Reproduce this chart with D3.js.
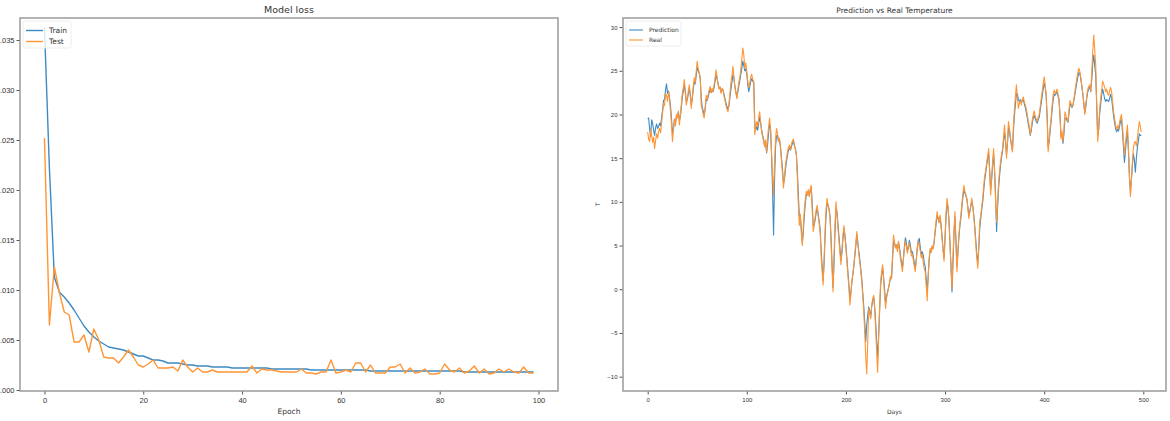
<!DOCTYPE html>
<html>
<head>
<meta charset="utf-8">
<script src="https://cdn.jsdelivr.net/npm/d3@7"></script>
<style>
  body { margin: 0; background: #fff; }
  svg { display: block; font-family: "DejaVu Sans", sans-serif; }
  .tick text { fill: #333; }
  .tick line { stroke: #555; }
</style>
</head>
<body>
<div id="chart"></div>
<script>
// model loss per epoch
const trainLoss = [
  0.0363, 0.0222, 0.0113, 0.0098, 0.0093, 0.0087, 0.0080, 0.0072, 0.0064, 0.0058,
  0.0053, 0.0049, 0.0046, 0.0043, 0.0042, 0.0041, 0.0040, 0.0038, 0.0036, 0.0034,
  0.0034, 0.0032, 0.0030, 0.0030, 0.0029, 0.0027, 0.0027, 0.0027, 0.0026, 0.0025,
  0.0025, 0.0024, 0.0024, 0.0024, 0.0023, 0.0023, 0.0023, 0.0023, 0.0022, 0.0022,
  0.0022, 0.0022, 0.0022, 0.0022, 0.0022, 0.0022, 0.0021, 0.0021, 0.0021, 0.0021,
  0.0021, 0.0021, 0.0021, 0.0021, 0.0020, 0.0020, 0.0020, 0.0020, 0.0020, 0.0020,
  0.0020, 0.0020, 0.0020, 0.0020, 0.0020, 0.0020, 0.0019, 0.0019, 0.0019, 0.0019,
  0.0019, 0.0019, 0.0019, 0.0019, 0.0019, 0.0019, 0.0019, 0.0019, 0.0019, 0.0019,
  0.0019, 0.0019, 0.0019, 0.0019, 0.0019, 0.0018, 0.0018, 0.0018, 0.0018, 0.0018,
  0.0018, 0.0018, 0.0018, 0.0018, 0.0018, 0.0018, 0.0018, 0.0018, 0.0018, 0.0018
]
const testLoss = [
  0.0252, 0.0065, 0.0123, 0.0098, 0.0078, 0.0075, 0.0048, 0.0048, 0.0055, 0.0038,
  0.0061, 0.0050, 0.0033, 0.0032, 0.0032, 0.0027, 0.0033, 0.0040, 0.0033, 0.0025,
  0.0023, 0.0026, 0.0030, 0.0022, 0.0022, 0.0022, 0.0023, 0.0019, 0.0030, 0.0023,
  0.0018, 0.0022, 0.0018, 0.0018, 0.0020, 0.0018, 0.0018, 0.0018, 0.0018, 0.0018,
  0.0018, 0.0018, 0.0024, 0.0017, 0.0021, 0.0020, 0.0020, 0.0019, 0.0018, 0.0018,
  0.0018, 0.0018, 0.0021, 0.0017, 0.0017, 0.0016, 0.0018, 0.0018, 0.0030, 0.0017,
  0.0018, 0.0020, 0.0018, 0.0027, 0.0027, 0.0018, 0.0025, 0.0017, 0.0017, 0.0017,
  0.0023, 0.0023, 0.0026, 0.0017, 0.0022, 0.0017, 0.0018, 0.0021, 0.0016, 0.0016,
  0.0017, 0.0026, 0.0020, 0.0018, 0.0022, 0.0017, 0.0019, 0.0024, 0.0017, 0.0021,
  0.0016, 0.0017, 0.0021, 0.0018, 0.0021, 0.0018, 0.0017, 0.0023, 0.0017, 0.0017
]
const epochTicks = [0, 20, 40, 60, 80, 100]
const lossTicks = [0, 0.005, 0.010, 0.015, 0.020, 0.025, 0.030, 0.035]

// daily temperature, predicted vs real
const predTemp = [
  19.5, 19.6, 18.3, 17.5, 19.4, 19.0, 18.2, 17.6, 18.5, 18.9,
  18.4, 18.6, 19.0, 18.7, 19.6, 20.5, 21.6, 21.7, 22.8, 23.5,
  22.4, 22.7, 22.0, 21.0, 19.6, 17.8, 18.4, 19.4, 19.0, 19.8,
  19.8, 20.3, 19.3, 19.8, 20.9, 22.0, 22.7, 23.4, 22.6, 21.5,
  21.7, 22.4, 23.0, 22.3, 21.1, 21.8, 22.9, 23.8, 23.5, 24.5,
  25.4, 25.0, 24.7, 24.2, 21.9, 20.9, 20.4, 20.0, 20.6, 21.7,
  21.6, 22.0, 22.5, 22.9, 22.5, 22.8, 22.6, 23.1, 23.8, 24.5,
  24.1, 23.5, 23.0, 23.1, 22.6, 22.9, 22.8, 22.3, 21.8, 21.3,
  20.9, 20.6, 21.0, 22.0, 22.9, 23.7, 24.6, 24.1, 23.2, 22.6,
  22.0, 22.6, 23.3, 23.9, 24.6, 25.3, 26.1, 25.6, 25.0, 25.2,
  24.6, 23.4, 22.6, 23.2, 23.8, 24.1, 23.8, 23.6, 19.2, 18.2,
  18.6, 18.2, 19.0, 19.7, 19.0, 18.2, 17.6, 17.1, 16.5, 16.7,
  15.6, 16.6, 17.9, 18.9, 18.3, 15.2, 11.4, 6.2, 12.5, 16.3,
  17.6, 17.6, 16.9, 17.1, 16.3, 15.0, 13.8, 12.1, 12.6, 13.7,
  14.6, 15.3, 15.9, 16.3, 15.9, 16.3, 16.7, 17.0, 16.5, 16.1,
  15.5, 13.5, 10.8, 8.3, 8.4, 6.9, 5.3, 6.5, 8.4, 9.8,
  10.8, 10.8, 11.2, 10.7, 11.2, 11.7, 9.8, 7.3, 7.3, 8.0,
  8.8, 9.3, 8.6, 7.8, 6.9, 4.5, 2.6, 1.0, 3.0, 6.1,
  8.5, 9.9, 9.6, 9.2, 8.3, 5.9, 2.9, 0.2, 3.0, 6.6,
  9.3, 8.8, 7.4, 6.0, 4.6, 3.3, 4.2, 5.8, 7.0, 6.2,
  5.0, 3.5, 2.0, 0.6, -1.2, -0.4, 0.8, 1.7, 2.6, 3.8,
  5.0, 6.3, 5.4, 4.3, 3.4, 2.3, 1.2, -0.4, -2.0, -3.8,
  -6.0, -4.0, -3.0, -2.0, -2.5, -3.1, -2.0, -1.3, -0.9, -2.0,
  -3.8, -6.0, -7.8, -5.2, -2.4, 0.4, 1.6, 2.5, 1.4, 0.0,
  -1.6, -0.8, -0.3, 0.2, 0.7, 1.3, 1.3, 3.3, 5.5, 5.3,
  4.8, 5.1, 4.5, 5.4, 4.8, 3.9, 3.1, 2.5, 3.5, 4.9,
  5.9, 5.3, 4.4, 4.8, 5.6, 5.1, 4.2, 4.3, 3.7, 3.0,
  2.5, 3.4, 4.7, 5.6, 5.8, 4.8, 4.0, 4.3, 3.9, 3.0,
  2.6, 1.1, -0.3, 1.5, 3.4, 4.5, 4.3, 4.9, 4.7, 5.4,
  6.5, 7.5, 8.5, 8.1, 7.7, 8.3, 7.3, 6.0, 4.6, 3.6,
  5.8, 8.2, 9.8, 9.3, 7.8, 5.2, 2.7, -0.3, 3.0, 6.2,
  8.3, 5.6, 2.6, 4.2, 6.0, 7.3, 8.2, 9.4, 10.5, 11.4,
  11.0, 10.7, 10.3, 9.4, 8.4, 8.9, 9.5, 10.1, 9.5, 8.5,
  7.2, 5.6, 4.1, 3.0, 4.6, 7.0, 8.1, 9.1, 10.0, 11.3,
  12.5, 13.3, 14.2, 15.0, 15.6, 13.6, 11.4, 12.6, 14.2, 15.5,
  13.4, 10.6, 6.6, 9.3, 11.6, 13.0, 14.2, 15.1, 15.8, 16.9,
  18.0, 16.9, 15.4, 16.7, 18.5, 18.1, 17.2, 16.5, 15.9, 18.2,
  19.9, 21.2, 22.3, 22.4, 21.7, 21.5, 21.7, 21.4, 21.6, 21.7,
  21.2, 20.8, 20.2, 19.6, 18.9, 18.3, 17.6, 18.2, 19.0, 19.6,
  19.9, 19.5, 19.2, 19.0, 19.4, 19.7, 20.5, 21.3, 22.1, 22.9,
  23.6, 23.1, 22.2, 19.8, 16.3, 16.8, 18.1, 19.2, 20.5, 21.6,
  22.3, 22.2, 22.4, 22.6, 22.1, 21.6, 19.9, 17.5, 17.7, 16.7,
  17.9, 19.6, 19.6, 19.3, 19.1, 20.1, 21.2, 21.1, 20.8, 21.0,
  21.6, 22.3, 23.0, 23.7, 24.3, 24.8, 24.7, 24.0, 23.2, 22.3,
  21.3, 20.2, 20.9, 21.9, 22.6, 22.9, 23.2, 22.6, 24.0, 25.8,
  26.8, 25.6, 24.5, 21.0, 17.5, 18.3, 20.1, 21.2, 22.2, 22.9,
  22.4, 21.8, 21.5, 21.7, 21.6, 21.5, 21.8, 22.3, 21.9, 20.9,
  19.8, 19.1, 18.4, 18.0, 18.3, 18.1, 18.6, 19.2, 19.5, 18.0,
  16.3, 14.5, 15.9, 17.2, 18.1, 15.8, 12.8, 11.2, 12.6, 14.2,
  15.5, 14.8, 13.4, 15.0, 16.2, 17.0, 17.8, 17.6, 17.6
]
const realTemp = [
  18.0, 17.2, 16.9, 18.3, 17.6, 16.8, 17.4, 16.1, 17.0, 17.8,
  17.3, 18.0, 18.4, 17.9, 19.0, 20.1, 21.3, 21.0, 22.4, 22.2,
  21.5, 22.6, 21.8, 20.4, 18.9, 16.9, 18.2, 19.5, 18.7, 20.0,
  19.6, 20.4, 18.8, 19.9, 21.2, 22.5, 23.1, 24.0, 22.4, 21.1,
  21.8, 22.7, 23.4, 22.1, 20.7, 22.0, 23.3, 24.2, 23.6, 25.0,
  26.1, 25.2, 24.8, 24.2, 21.1, 20.6, 20.0, 19.6, 20.8, 22.2,
  21.7, 22.3, 22.8, 23.2, 22.5, 23.0, 22.6, 23.4, 24.2, 25.1,
  24.3, 23.5, 22.9, 23.2, 22.4, 23.0, 22.8, 22.1, 21.6, 21.0,
  20.6, 20.3, 21.2, 22.5, 23.6, 24.4, 25.5, 24.3, 23.1, 22.4,
  21.8, 22.9, 23.7, 24.3, 25.2, 26.4, 27.6, 26.8, 25.3, 25.9,
  24.9, 23.8, 23.1, 23.6, 24.3, 24.6, 24.0, 23.8, 17.7, 18.5,
  19.2, 18.6, 19.7, 20.3, 19.1, 18.0, 17.4, 16.9, 16.3, 17.1,
  15.7, 17.4, 18.6, 19.6, 18.2, 15.5, 13.1, 10.8, 14.6, 17.2,
  18.4, 17.8, 16.9, 17.3, 16.1, 14.7, 13.2, 11.6, 12.9, 14.2,
  15.0, 15.7, 16.2, 16.5, 15.9, 16.6, 17.0, 17.2, 16.4, 16.0,
  15.4, 12.8, 9.7, 7.3, 8.6, 6.4, 5.0, 7.2, 9.1, 10.3,
  11.2, 10.8, 11.4, 10.6, 11.5, 11.9, 9.0, 6.6, 7.4, 8.3,
  9.1, 9.6, 8.4, 7.5, 6.6, 3.8, 2.1, 0.5, 3.6, 6.9,
  9.2, 10.4, 9.6, 9.1, 8.1, 5.4, 2.3, -0.3, 3.8, 7.5,
  10.0, 8.6, 7.0, 5.5, 4.1, 2.8, 4.6, 6.2, 7.3, 6.0,
  4.7, 3.1, 1.6, 0.2, -1.8, -0.6, 0.9, 1.8, 2.8, 4.1,
  5.3, 6.6, 5.2, 4.0, 3.1, 2.0, 0.9, -0.8, -2.6, -4.9,
  -7.8, -9.7, -6.1, -2.2, -2.8, -3.4, -1.8, -1.1, -0.7, -2.3,
  -4.5, -7.2, -9.5, -5.6, -2.1, 0.9, 2.0, 2.8, 1.1, -0.6,
  -2.2, -1.0, -0.4, 0.1, 0.8, 1.5, 1.2, 3.8, 6.2, 5.4,
  4.7, 5.1, 4.3, 5.5, 4.6, 3.5, 2.8, 2.0, 3.4, 4.7,
  5.5, 4.9, 4.1, 4.7, 5.3, 4.6, 3.8, 4.0, 3.3, 2.6,
  2.0, 3.4, 4.8, 5.5, 4.9, 4.4, 3.6, 4.0, 3.1, 2.4,
  2.0, 0.4, -1.3, 1.5, 3.6, 4.7, 4.2, 5.0, 4.6, 5.5,
  6.8, 7.9, 8.9, 8.1, 7.6, 8.5, 7.2, 5.8, 4.4, 3.2,
  6.1, 8.7, 10.4, 9.5, 7.7, 5.0, 2.4, 0.1, 3.6, 6.8,
  8.9, 5.2, 2.0, 4.4, 6.3, 7.5, 8.5, 9.8, 10.9, 11.9,
  11.2, 10.8, 10.4, 9.3, 8.1, 8.9, 9.7, 10.4, 9.5, 8.3,
  6.9, 5.1, 3.6, 2.4, 4.8, 7.7, 8.5, 9.4, 10.4, 11.8,
  13.0, 13.6, 14.5, 15.3, 16.1, 13.4, 10.8, 12.7, 14.6, 16.1,
  13.5, 10.2, 7.7, 9.8, 12.2, 13.5, 14.6, 15.4, 16.1, 17.4,
  18.8, 17.1, 15.0, 17.0, 19.2, 18.4, 17.3, 16.5, 15.7, 18.8,
  20.6, 22.1, 23.4, 22.0, 20.7, 21.3, 21.6, 21.1, 21.8, 22.0,
  21.4, 21.1, 20.6, 20.0, 19.2, 18.6, 17.7, 18.5, 19.4, 20.0,
  20.4, 19.8, 19.5, 19.2, 19.7, 20.0, 20.9, 21.8, 22.6, 23.5,
  24.3, 23.4, 22.2, 19.4, 15.7, 17.0, 18.5, 19.6, 21.0, 22.2,
  22.8, 22.4, 22.6, 22.9, 22.3, 21.8, 19.7, 17.2, 18.1, 16.9,
  18.5, 20.3, 19.9, 19.5, 19.2, 20.4, 21.6, 21.3, 20.9, 21.1,
  21.8, 22.6, 23.4, 24.2, 24.8, 25.3, 24.9, 24.2, 23.3, 22.4,
  21.2, 20.0, 21.1, 22.2, 22.9, 23.2, 23.4, 22.6, 24.8, 27.2,
  29.1, 27.4, 25.7, 21.3, 16.9, 18.5, 20.7, 21.9, 22.8, 23.8,
  23.5, 23.1, 22.6, 22.9, 22.4, 22.2, 22.7, 23.1, 22.6, 21.5,
  20.3, 19.6, 18.8, 18.2, 18.7, 18.4, 19.1, 19.6, 20.0, 18.6,
  17.0, 15.4, 16.7, 17.8, 18.8, 16.2, 13.1, 10.6, 12.4, 14.5,
  16.1, 16.8, 16.9, 16.4, 17.2, 18.3, 19.2, 18.6, 18.0
]
const dayTicks = [0, 100, 200, 300, 400, 500]
const tempTicks = [-10, -5, 0, 5, 10, 15, 20, 25, 30]

const blue = "#3d8ac4"
const orange = "#ff9533"

const fullWidth = 1170
const fullHeight = 421

const svg = d3.select("#chart")
              .append("svg")
              .attr("width", fullWidth)
              .attr("height", fullHeight)

svg.append("rect")
   .attr("width", fullWidth)
   .attr("height", fullHeight)
   .attr("fill", "#fff")

// draws one matplotlib-like panel
function panel(opt) {
    const x = d3.scaleLinear().domain(opt.xDomain).range([opt.left, opt.right])
    const y = d3.scaleLinear().domain(opt.yDomain).range([opt.bottom, opt.top])

    const g = svg.append("g")

    const xAxis = d3.axisBottom(x).tickValues(opt.xTicks).tickSize(3.5).tickPadding(3)
    const yAxis = d3.axisLeft(y).tickValues(opt.yTicks).tickSize(3.5).tickPadding(2)
    if (opt.yFormat) yAxis.tickFormat(opt.yFormat)

    const gx = g.append("g")
                .attr("transform", `translate(0,${opt.bottom})`)
                .call(xAxis)
    const gy = g.append("g")
                .attr("transform", `translate(${opt.left},0)`)
                .call(yAxis)
    gx.select(".domain").remove()
    gy.select(".domain").remove()
    gx.selectAll("text").style("font-size", opt.tickFont + "px")
    gy.selectAll("text").style("font-size", opt.tickFont + "px")

    const line = d3.line()
                   .x((d, i) => x(i))
                   .y(d => y(d))

    opt.series.forEach(s => {
        g.append("path")
         .datum(s.values)
         .attr("fill", "none")
         .attr("stroke", s.color)
         .attr("stroke-width", opt.lineWidth)
         .attr("stroke-linejoin", "round")
         .attr("d", line)
    })

    // frame
    g.append("rect")
     .attr("x", opt.left)
     .attr("y", opt.top)
     .attr("width", opt.right - opt.left)
     .attr("height", opt.bottom - opt.top)
     .attr("fill", "none")
     .attr("stroke", "#9a9a9a")
     .attr("stroke-width", 1.5)

    const cx = (opt.left + opt.right) / 2
    g.append("text")
     .attr("x", cx)
     .attr("y", opt.top - 5)
     .attr("text-anchor", "middle")
     .style("font-size", opt.titleFont + "px")
     .attr("fill", "#333")
     .text(opt.title)

    g.append("text")
     .attr("x", cx)
     .attr("y", opt.bottom + 23)
     .attr("text-anchor", "middle")
     .style("font-size", opt.tickFont + "px")
     .attr("fill", "#333")
     .text(opt.xLabel)

    if (opt.yLabel) {
        g.append("text")
         .attr("transform", `translate(${opt.left - 23},${(opt.top + opt.bottom) / 2}) rotate(-90)`)
         .attr("text-anchor", "middle")
         .style("font-size", opt.tickFont + "px")
         .attr("fill", "#333")
         .text(opt.yLabel)
    }

    // legend, upper left
    const lg = g.append("g").attr("transform", `translate(${opt.left + 3},${opt.top + 3})`)
    lg.append("rect")
      .attr("width", opt.legendW)
      .attr("height", opt.series.length * opt.legendRow + 5)
      .attr("rx", 2)
      .attr("fill", "#fff")
      .attr("fill-opacity", 0.8)
      .attr("stroke", "#eee")
    opt.series.forEach((s, i) => {
        const yy = 4 + opt.legendRow * (i + 0.5)
        lg.append("line")
          .attr("x1", 3).attr("x2", 3 + opt.legendLine)
          .attr("y1", yy).attr("y2", yy)
          .attr("stroke", s.color)
          .attr("stroke-width", opt.lineWidth)
        lg.append("text")
          .attr("x", 9 + opt.legendLine)
          .attr("y", yy)
          .attr("dy", "0.35em")
          .style("font-size", opt.legendFont + "px")
          .attr("fill", "#333")
          .text(s.name)
    })
}

panel({
    left: 20, right: 558, top: 18, bottom: 391,
    xDomain: [-4.95, 103.95], yDomain: [-0.0001, 0.0372],
    xTicks: epochTicks, yTicks: lossTicks, yFormat: d3.format(".3f"),
    series: [
        { name: "Train", values: trainLoss, color: blue },
        { name: "Test", values: testLoss, color: orange }
    ],
    title: "Model loss", xLabel: "Epoch",
    tickFont: 7.5, titleFont: 9.5, legendFont: 7.5,
    lineWidth: 1.4, legendW: 48, legendRow: 11, legendLine: 17
})

panel({
    left: 623, right: 1166, top: 18, bottom: 391,
    xDomain: [-24.9, 522.9], yDomain: [-11.64, 31.04],
    xTicks: dayTicks, yTicks: tempTicks,
    series: [
        { name: "Prediction", values: predTemp, color: blue },
        { name: "Real", values: realTemp, color: orange }
    ],
    title: "Prediction vs Real Temperature", xLabel: "Days", yLabel: "T",
    tickFont: 6, titleFont: 7.5, legendFont: 6,
    lineWidth: 1.1, legendW: 55, legendRow: 10, legendLine: 14
})
</script>
</body>
</html>
